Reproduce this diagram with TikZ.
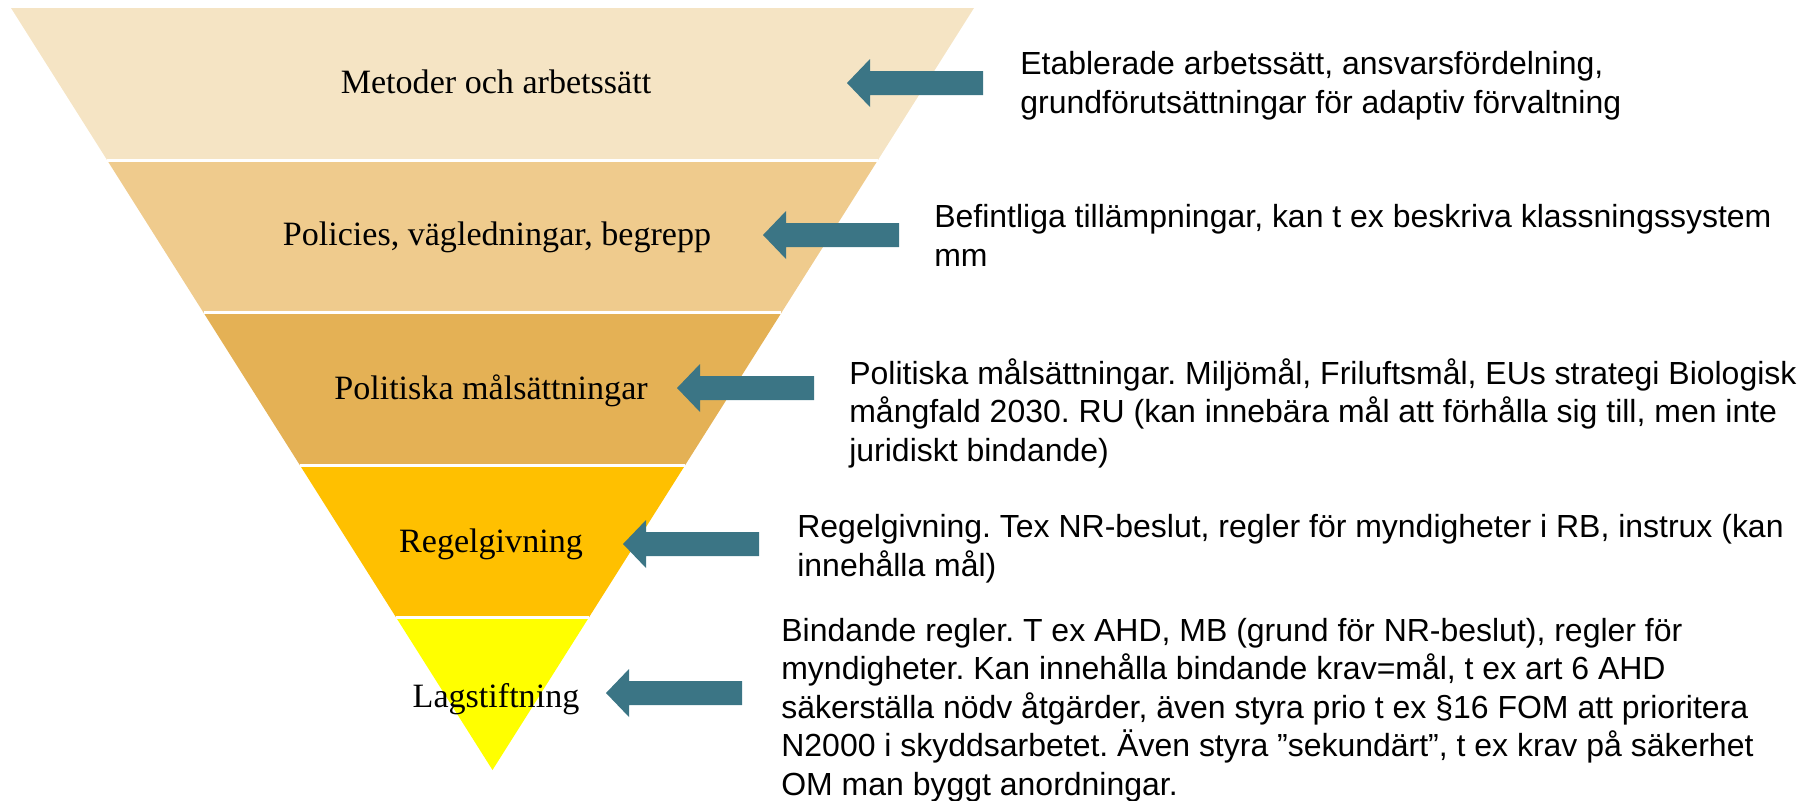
\documentclass[tikz,border=0pt]{standalone}
\usepackage{fontspec}
\setmainfont{Liberation Serif}
\setsansfont{Liberation Sans}
\usetikzlibrary{calc}
\definecolor{band1}{HTML}{F5E4C4}
\definecolor{band2}{HTML}{EFCB8D}
\definecolor{band3}{HTML}{E4B155}
\definecolor{band4}{HTML}{FFC000}
\definecolor{band5}{HTML}{FFFF00}
\definecolor{petrol}{HTML}{3B7585}
\frenchspacing

\begin{document}
\begin{tikzpicture}[
  x=0.02cm, y=-0.02cm,
  level/.style={font=\fontsize{19.4}{23}\selectfont, anchor=base, inner sep=0pt},
  desc/.style={font=\sffamily\fontsize{18.2}{21.9}\selectfont, align=left,
               anchor=base west, inner sep=0pt},
  gap/.style={draw=white, line width=0.06cm},
  blockarrow/.style={fill=petrol}
]
\useasboundingbox (0,0) rectangle (1812,801);
% ---------------- Funnel ----------------
\coordinate (tl) at (11,8);
\coordinate (tr) at (974,8);
\coordinate (apex) at (492.5,770);
\foreach \i/\col in {0/band1,1/band2,2/band3,3/band4,4/band5}{
  \pgfmathsetmacro{\a}{\i/5}
  \pgfmathsetmacro{\b}{(\i+1)/5}
  \fill[\col] ($(tl)!\a!(apex)$) -- ($(tr)!\a!(apex)$)
              -- ($(tr)!\b!(apex)$) -- ($(tl)!\b!(apex)$) -- cycle;
}
\foreach \t in {0.2,0.4,0.6,0.8}
  \draw[gap] ($(tl)!\t!(apex)$) -- ($(tr)!\t!(apex)$);
% ---------------- Levels ----------------
\node[level] (metoder) at (496,93) {Metoder och arbetssätt};
\node[level] (policies) at (497,245) {Policies, vägledningar, begrepp};
\node[level] (politik) at (491,399) {Politiska målsättningar};
\node[level] (regel) at (491,552) {Regelgivning};
\node[level] (lag) at (496,707) {Lagstiftning};
% ---------------- Arrows ----------------
\foreach \tip/\y/\tail in {847/83/983, 763/235/899, 677/388/814, 623/544/759, 606/693/742}
  \fill[blockarrow] (\tip,\y) -- (\tip+23,\y-24) -- (\tip+23,\y-12) -- (\tail,\y-12)
    -- (\tail,\y+12) -- (\tip+23,\y+12) -- (\tip+23,\y+24) -- cycle;
% ---------------- Descriptions (placed at last baseline) ----------------
\node[desc] (dmetoder) at (1020,113)
  {Etablerade arbetssätt, ansvarsfördelning,\\grundförutsättningar för adaptiv förvaltning};
\node[desc] (dpolicies) at (934,266)
  {Befintliga tillämpningar, kan t ex beskriva klassningssystem\\mm};
\node[desc] (dpolitik) at (849,461)
  {Politiska målsättningar. Miljömål, Friluftsmål, EUs strategi Biologisk\\
   mångfald 2030. RU (kan innebära mål att förhålla sig till, men inte\\
   juridiskt bindande)};
\node[desc] (dregel) at (797,576)
  {Regelgivning. Tex NR-beslut, regler för myndigheter i RB, instrux (kan\\innehålla mål)};
\node[desc] (dlag) at (781,795)
  {Bindande regler. T ex AHD, MB (grund för NR-beslut), regler för\\
   myndigheter. Kan innehålla bindande krav=mål, t ex art 6 AHD\\
   säkerställa nödv åtgärder, även styra prio t ex §16 FOM att prioritera\\
   N2000 i skyddsarbetet. Även styra ”sekundärt”, t ex krav på säkerhet\\
   OM man byggt anordningar.};
\end{tikzpicture}
\end{document}
